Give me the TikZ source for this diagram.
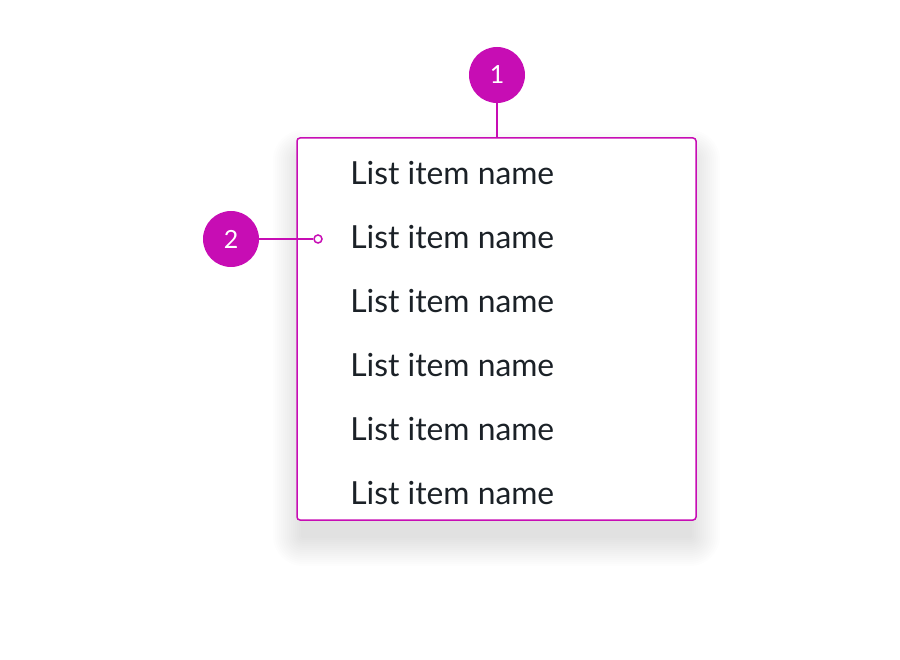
\documentclass[tikz,border=0pt]{standalone}
\usepackage{fontspec}
\setmainfont{Lato}
\usetikzlibrary{positioning}
\definecolor{pinkline}{HTML}{C70DB4}
\definecolor{itemtext}{HTML}{1B2127}

\begin{document}
\begin{tikzpicture}[x=1pt, y=-1pt, thick,
    badge/.style = {circle, fill=pinkline, text=white, minimum size=56pt, inner sep=0pt, font=\fontsize{25}{30}\selectfont},
    item/.style = {anchor=west, text=itemtext, inner sep=0pt, font=\fontsize{31.8}{38}\selectfont}]
    \useasboundingbox (0,0) rectangle (900,660);
    % shadow
    \foreach \s in {2,4,...,30}
        \fill[black, opacity=0.006, rounded corners=\s pt] (297-\s+6,160-\s) rectangle (696+\s-6,536+\s);
    \node[draw=pinkline, fill=white, line width=1.5pt, rounded corners=3pt, minimum width=399pt, minimum height=382pt, inner sep=0pt] (box) at (496.5,329) {};
    \foreach \i in {1,...,6}
        \node[item] (i\i) at (350,109+64*\i) {List item name};
    \node[badge] (n1) at (497,75) {1};
    \node[badge] (n2) at (231,239) {2};
    \node[circle, draw=pinkline, fill=white, line width=1.5pt, minimum size=8pt, inner sep=0pt] (pin) at (318,239) {};
    \draw[pinkline, line width=1.5pt] (n1) -- (box.north -| n1);
    \draw[pinkline, line width=1.5pt] (n2) -- (pin);
\end{tikzpicture}
\end{document}
